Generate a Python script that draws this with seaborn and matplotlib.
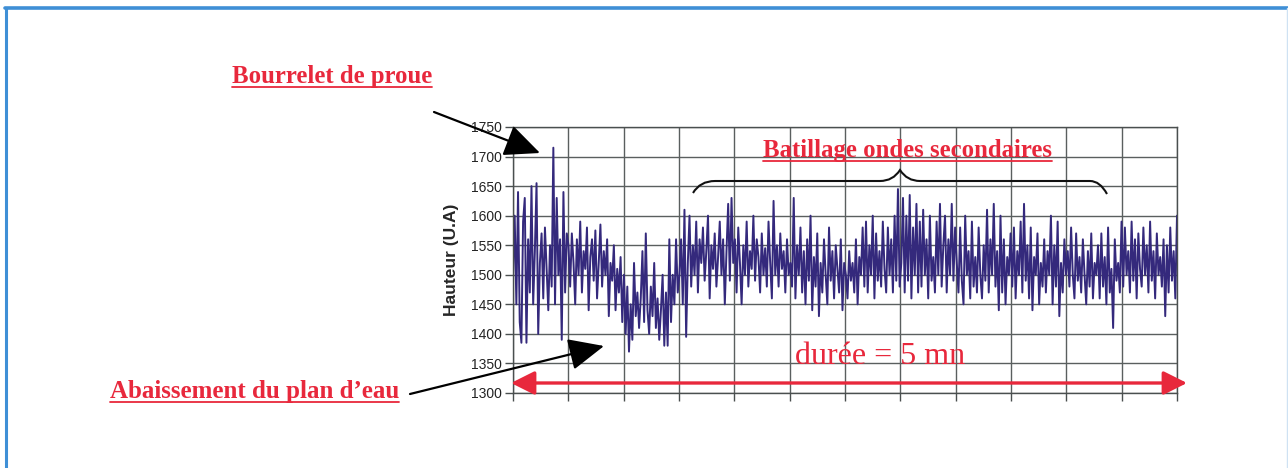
import numpy as np
import pandas as pd
import matplotlib
matplotlib.use("Agg")
import matplotlib.pyplot as plt
import seaborn as sns
from matplotlib.lines import Line2D
from matplotlib.path import Path
from matplotlib.patches import PathPatch

# ---------------- data ----------------
hauteur_1 = [1500, 1600, 1450, 1640, 1420, 1385, 1590, 1630, 1385, 1560, 1470, 1650, 1450, 1540, 1655, 1400, 1520,
             1570, 1460, 1580, 1510, 1440, 1550, 1480, 1715, 1450, 1630, 1500, 1560, 1390, 1640, 1470, 1570]
hauteur_2 = [1550, 1480, 1570, 1520, 1450, 1560, 1500, 1590, 1470, 1540, 1510, 1580, 1440, 1530, 1560, 1490, 1575,
             1460, 1520, 1585, 1480, 1540, 1500, 1560, 1430, 1520, 1490, 1550, 1440, 1510, 1470, 1530, 1420]
hauteur_3 = [1500, 1400, 1480, 1370, 1450, 1390, 1520, 1430, 1470, 1410, 1460, 1540, 1420, 1570, 1440, 1400, 1480,
             1430, 1520, 1410, 1460, 1390, 1440, 1500, 1380, 1470, 1380, 1560, 1420, 1500, 1450, 1560, 1470]
hauteur_4 = [1500, 1560, 1450, 1610, 1395, 1520, 1600, 1480, 1550, 1500, 1590, 1470, 1560, 1520, 1580, 1490, 1540,
             1600, 1460, 1550, 1510, 1570, 1480, 1530, 1590, 1500, 1560, 1450, 1540, 1620, 1490, 1630, 1520]
hauteur_5 = [1560, 1470, 1580, 1520, 1450, 1550, 1500, 1590, 1480, 1540, 1510, 1600, 1490, 1560, 1530, 1470, 1570,
             1500, 1545, 1480, 1590, 1520, 1460, 1625, 1500, 1550, 1480, 1570, 1510, 1540, 1470, 1560, 1500]
hauteur_6 = [1520, 1480, 1630, 1460, 1550, 1500, 1580, 1470, 1540, 1450, 1560, 1490, 1600, 1440, 1530, 1480, 1570,
             1430, 1520, 1470, 1560, 1500, 1450, 1580, 1490, 1540, 1460, 1550, 1510, 1470, 1560, 1440, 1520]
hauteur_7 = [1500, 1460, 1540, 1490, 1520, 1470, 1560, 1450, 1530, 1500, 1580, 1480, 1590, 1470, 1550, 1500, 1600,
             1460, 1570, 1490, 1540, 1480, 1590, 1510, 1470, 1580, 1500, 1560, 1470, 1600, 1490, 1645, 1480]
hauteur_8 = [1520, 1630, 1470, 1600, 1490, 1635, 1460, 1580, 1500, 1620, 1470, 1590, 1480, 1610, 1500, 1560, 1460,
             1600, 1490, 1530, 1470, 1590, 1500, 1620, 1480, 1550, 1600, 1470, 1560, 1500, 1620, 1490, 1580]
hauteur_9 = [1520, 1470, 1580, 1490, 1450, 1600, 1500, 1540, 1460, 1590, 1480, 1530, 1470, 1580, 1500, 1460, 1550,
             1490, 1610, 1470, 1560, 1500, 1620, 1480, 1540, 1440, 1600, 1470, 1560, 1450, 1530, 1500, 1570]
hauteur_10 = [1480, 1580, 1460, 1540, 1500, 1590, 1470, 1620, 1490, 1550, 1460, 1580, 1440, 1530, 1500, 1570, 1450,
              1520, 1480, 1560, 1470, 1540, 1500, 1600, 1450, 1550, 1480, 1590, 1430, 1520, 1470, 1560, 1500]
hauteur_11 = [1540, 1480, 1580, 1500, 1460, 1570, 1490, 1530, 1470, 1560, 1500, 1450, 1540, 1480, 1570, 1460, 1520,
              1500, 1550, 1460, 1570, 1480, 1530, 1450, 1580, 1470, 1510, 1410, 1560, 1490, 1520, 1470, 1590]
hauteur_12 = [1480, 1580, 1500, 1540, 1470, 1590, 1490, 1560, 1460, 1570, 1510, 1480, 1580, 1500, 1550, 1470, 1590,
              1490, 1540, 1460, 1570, 1500, 1530, 1480, 1560, 1430, 1550, 1470, 1580, 1490, 1540, 1460, 1600]

hauteur = (hauteur_1 + hauteur_2 + hauteur_3 + hauteur_4 + hauteur_5 + hauteur_6 +
           hauteur_7 + hauteur_8 + hauteur_9 + hauteur_10 + hauteur_11 + hauteur_12)
duree_s = 300
temps = np.linspace(0, duree_s, len(hauteur))
y_ticks = [1300, 1350, 1400, 1450, 1500, 1550, 1600, 1650, 1700, 1750]
x_ticks = list(range(0, 301, 25))

ylabel = "Hauteur (U.A)"
txt_bourrelet = "Bourrelet de proue"
txt_batillage = "Batillage ondes secondaires"
txt_abaissement = "Abaissement du plan d\u2019eau"
txt_duree = "durée = 5 mn"

df = pd.DataFrame({"temps": temps, "hauteur": hauteur})

# ---------------- figure ----------------
sns.set_style("white")
plt.rcParams['font.family'] = ['Liberation Sans', 'DejaVu Sans']

W, H = 1288, 468
fig = plt.figure(figsize=(W / 100, H / 100), dpi=100)

def fp(x, y):
    """pixel (top-left origin) -> figure fraction"""
    return (x / W, 1 - y / H)

ax_l, ax_r, ax_t, ax_b = 513, 1177, 127, 393
ax = fig.add_axes([ax_l / W, 1 - ax_b / H, (ax_r - ax_l) / W, (ax_b - ax_t) / H])

sns.lineplot(data=df, x="temps", y="hauteur", ax=ax, color="#34297c", lw=1.4)

ax.set_xlim(0, duree_s)
ax.set_ylim(1300, 1750)
ax.set_xticks(x_ticks)
ax.set_xticklabels([])
ax.set_yticks(y_ticks)
ax.set_yticklabels([str(v) for v in y_ticks], fontsize=10, color="#222222")
ax.grid(True, color="#5a5f5f", lw=1.0)
ax.set_axisbelow(True)
for s in ax.spines.values():
    s.set_color("#4a4f4f")
    s.set_linewidth(1.0)
ax.tick_params(axis="both", direction="out", length=6, width=1.0, color="#4a4f4f", pad=2, bottom=True, left=True)
ax.set_xlabel("")
ax.set_ylabel(ylabel, fontsize=12.5, fontweight="bold", labelpad=9)

red = "#e8283c"

# ---------------- annotations ----------------
def underlined(x, y, s, size, bold=True):
    t = fig.text(*fp(x, y), s, fontsize=size, color=red, family=['Liberation Serif', 'DejaVu Serif'],
                 fontweight="bold" if bold else "normal", ha="left", va="baseline")
    return t

t1 = underlined(232, 83, txt_bourrelet, 17.8)
t2 = underlined(763, 157, txt_batillage, 17.8)
t3 = underlined(110, 398, txt_abaissement, 18)
fig.text(*fp(795, 364), txt_duree, fontsize=23, color=red, family=['Liberation Serif', 'DejaVu Serif'],
         ha="left", va="baseline")

fig.canvas.draw()
r = fig.canvas.get_renderer()
for t in (t1, t2, t3):
    bb = t.get_window_extent(r)
    yb = bb.y0 + 1
    fig.add_artist(Line2D([bb.x0 / W, bb.x1 / W], [yb / H, yb / H], color=red, lw=1.3))

# black arrows
ax.annotate("", xy=fp(540, 153), xycoords="figure fraction", xytext=fp(434, 112),
            textcoords="figure fraction", annotation_clip=False,
            arrowprops=dict(arrowstyle="-|>,head_length=1.0,head_width=0.45", mutation_scale=22,
                            lw=1.6, color="black", shrinkA=0, shrinkB=0))
ax.annotate("", xy=fp(604, 346), xycoords="figure fraction", xytext=fp(410, 394),
            textcoords="figure fraction", annotation_clip=False,
            arrowprops=dict(arrowstyle="-|>,head_length=1.0,head_width=0.45", mutation_scale=22,
                            lw=1.6, color="black", shrinkA=0, shrinkB=0))

# red double arrow (durée)
ax.annotate("", xy=fp(1187, 383), xycoords="figure fraction", xytext=fp(511, 383),
            textcoords="figure fraction", annotation_clip=False,
            arrowprops=dict(arrowstyle="<|-|>,head_length=0.9,head_width=0.45", mutation_scale=16,
                            lw=2.4, color=red, shrinkA=0, shrinkB=0))

# curly brace
pts = [fp(693, 193), fp(700, 181), fp(715, 181),
       fp(880, 181), fp(893, 181), fp(900, 170),
       fp(907, 181), fp(920, 181), fp(1090, 181),
       fp(1100, 181), fp(1107, 194)]
codes = [Path.MOVETO, Path.CURVE3, Path.CURVE3,
         Path.LINETO, Path.CURVE3, Path.CURVE3,
         Path.CURVE3, Path.CURVE3, Path.LINETO,
         Path.CURVE3, Path.CURVE3]
fig.add_artist(PathPatch(Path(pts, codes), transform=fig.transFigure, fill=False, lw=1.5, color="#111111"))

# blue frame
blue = "#3f8fd6"
fig.add_artist(Line2D([5 / W, 1], [1 - 8 / H, 1 - 8 / H], color=blue, lw=2.6))
fig.add_artist(Line2D([6 / W, 6 / W], [0, 1 - 8 / H], color=blue, lw=2.2))
fig.add_artist(Line2D([1286.5 / W, 1286.5 / W], [0, 1 - 8 / H], color="#cfe2f3", lw=1.0))

fig.savefig("out.png", dpi=100)
